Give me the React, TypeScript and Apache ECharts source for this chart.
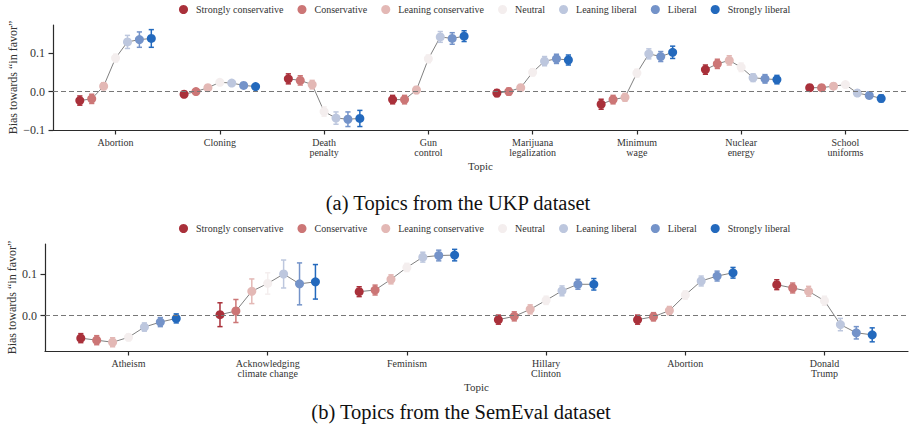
import React, { useEffect, useRef } from "react";
import * as echarts from "echarts";

const GROUPS = [
  "Strongly conservative",
  "Conservative",
  "Leaning conservative",
  "Neutral",
  "Leaning liberal",
  "Liberal",
  "Strongly liberal",
];
const COLORS = ["#a9303a", "#cc7676", "#e3b8b5", "#f4eeee", "#bdc7de", "#7493c9", "#2369bd"];

const ukpTopics = [
  "Abortion",
  "Cloning",
  "Death\npenalty",
  "Gun\ncontrol",
  "Marijuana\nlegalization",
  "Minimum\nwage",
  "Nuclear\nenergy",
  "School\nuniforms",
];
// rows: topics, columns: groups (strongly conservative ... strongly liberal)
const ukpMeans = [
  [-0.0235, -0.019, 0.014, 0.087, 0.129, 0.135, 0.138],
  [-0.007, 0.0, 0.01, 0.024, 0.022, 0.016, 0.013],
  [0.033, 0.029, 0.018, -0.052, -0.069, -0.072, -0.07],
  [-0.021, -0.021, 0.004, 0.085, 0.142, 0.138, 0.144],
  [-0.004, 0.0, 0.01, 0.05, 0.079, 0.085, 0.082],
  [-0.033, -0.021, -0.015, 0.048, 0.098, 0.091, 0.102],
  [0.057, 0.072, 0.081, 0.063, 0.036, 0.033, 0.031],
  [0.01, 0.01, 0.014, 0.018, -0.004, -0.01, -0.018],
];
const ukpErrors = [
  [0.012, 0.012, 0.009, 0.01, 0.017, 0.02, 0.023],
  [0.006, 0.006, 0.005, 0.005, 0.006, 0.006, 0.007],
  [0.013, 0.012, 0.011, 0.012, 0.016, 0.019, 0.021],
  [0.011, 0.011, 0.009, 0.01, 0.014, 0.015, 0.014],
  [0.009, 0.009, 0.008, 0.009, 0.012, 0.012, 0.013],
  [0.013, 0.011, 0.01, 0.01, 0.013, 0.013, 0.016],
  [0.012, 0.012, 0.012, 0.011, 0.01, 0.011, 0.011],
  [0.008, 0.007, 0.007, 0.006, 0.008, 0.008, 0.009],
];

const semTopics = [
  "Atheism",
  "Acknowledging\nclimate change",
  "Feminism",
  "Hillary\nClinton",
  "Abortion",
  "Donald\nTrump",
];
const semMeans = [
  [-0.055, -0.06, -0.065, -0.053, -0.028, -0.016, -0.007],
  [0.002, 0.011, 0.059, 0.078, 0.101, 0.077, 0.082],
  [0.058, 0.062, 0.088, 0.117, 0.142, 0.146, 0.147],
  [-0.01, -0.002, 0.015, 0.037, 0.06, 0.076, 0.076],
  [-0.01, -0.003, 0.012, 0.05, 0.084, 0.096, 0.104],
  [0.075, 0.067, 0.059, 0.036, -0.022, -0.042, -0.047],
];
const semErrors = [
  [0.011, 0.011, 0.011, 0.008, 0.01, 0.011, 0.011],
  [0.029, 0.028, 0.03, 0.026, 0.034, 0.051, 0.042],
  [0.012, 0.012, 0.011, 0.01, 0.012, 0.013, 0.014],
  [0.011, 0.011, 0.011, 0.01, 0.012, 0.012, 0.014],
  [0.011, 0.01, 0.01, 0.01, 0.012, 0.012, 0.013],
  [0.012, 0.012, 0.012, 0.011, 0.015, 0.015, 0.017],
];

const ukpYTicks = [-0.1, 0, 0.1];
const semYTicks = [0, 0.1];

const FONT = "Liberation Serif";
const AXIS_COLOR = "#2b2b2b";
const TEXT_COLOR = "#333333";

const offset = (g: number) => ((g - 3) * 0.8) / 7;

function fmtY(v: number) {
  return v.toFixed(1).replace("-", "\u2212");
}

function buildSeries(gi: number, topics: string[], means: number[][], errs: number[][]) {
  const series: any[] = [];
  topics.forEach((_, ti) => {
    series.push({
      type: "line",
      name: `conn-${gi}-${ti}`,
      xAxisIndex: gi,
      yAxisIndex: gi,
      data: means[ti].map((m, g) => [ti + offset(g), m]),
      symbol: "none",
      silent: true,
      lineStyle: { color: "#808080", width: 1 },
      z: 1,
      markLine:
        ti === 0
          ? {
              silent: true,
              symbol: "none",
              label: { show: false },
              lineStyle: { color: "#777777", type: [5, 3], width: 1 },
              data: [{ yAxis: 0 }],
            }
          : undefined,
    });
  });
  GROUPS.forEach((gname, g) => {
    series.push({
      type: "custom",
      name: `err-${gi}-${g}`,
      xAxisIndex: gi,
      yAxisIndex: gi,
      silent: true,
      z: 2,
      encode: { x: 0, y: 1 },
      data: topics.map((_, ti) => [ti + offset(g), means[ti][g], errs[ti][g]]),
      renderItem: (params: any, api: any) => {
        const x = api.value(0);
        const y = api.value(1);
        const e = api.value(2);
        const top = api.coord([x, y + e]);
        const bot = api.coord([x, y - e]);
        const style = { stroke: COLORS[g], lineWidth: 1.5 };
        const cw = 2.6;
        return {
          type: "group",
          children: [
            { type: "line", shape: { x1: top[0], y1: top[1], x2: bot[0], y2: bot[1] }, style },
            { type: "line", shape: { x1: top[0] - cw, y1: top[1], x2: top[0] + cw, y2: top[1] }, style },
            { type: "line", shape: { x1: bot[0] - cw, y1: bot[1], x2: bot[0] + cw, y2: bot[1] }, style },
          ],
        };
      },
    });
    series.push({
      type: "scatter",
      name: gname,
      xAxisIndex: gi,
      yAxisIndex: gi,
      symbol: "circle",
      symbolSize: 9,
      itemStyle: { color: COLORS[g], opacity: 1 },
      z: 3,
      data: topics.map((_, ti) => [ti + offset(g), means[ti][g]]),
    });
  });
  return series;
}

function xAxisFor(gi: number, topics: string[]) {
  const idx = topics.map((_, i) => i);
  return {
    type: "value",
    gridIndex: gi,
    min: -0.6,
    max: topics.length - 1 + 0.6,
    name: "Topic",
    nameLocation: "middle",
    nameGap: 30,
    nameMoveOverlap: false,
    nameTextStyle: { fontFamily: FONT, fontSize: 11, color: TEXT_COLOR },
    axisLine: { show: true, onZero: false, lineStyle: { color: AXIS_COLOR, width: 1.2 } },
    axisTick: { show: true, length: 4.5, customValues: idx, lineStyle: { color: AXIS_COLOR, width: 1.2 } },
    axisLabel: {
      customValues: idx,
      margin: 7,
      fontFamily: FONT,
      fontSize: 10,
      lineHeight: 10,
      color: TEXT_COLOR,
      formatter: (v: number) => topics[Math.round(v)],
    },
    splitLine: { show: false },
  };
}

function yAxisFor(gi: number, min: number, max: number, ticks: number[], nameGap: number) {
  return {
    type: "value",
    gridIndex: gi,
    min,
    max,
    name: "Bias towards \u201cin favor\u201d",
    nameLocation: "middle",
    nameGap,
    nameMoveOverlap: false,
    nameTextStyle: { fontFamily: FONT, fontSize: 12, color: TEXT_COLOR },
    axisLine: { show: true, onZero: false, lineStyle: { color: AXIS_COLOR, width: 1.2 } },
    axisTick: { show: true, length: 4.5, customValues: ticks, lineStyle: { color: AXIS_COLOR, width: 1.2 } },
    axisLabel: {
      customValues: ticks,
      margin: 8,
      fontFamily: FONT,
      fontSize: 12,
      color: TEXT_COLOR,
      formatter: (v: number) => fmtY(v),
    },
    splitLine: { show: false },
  };
}

function legendAt(top: number) {
  return {
    data: GROUPS.map((n) => ({ name: n, icon: "circle" })),
    left: 179,
    top,
    padding: 0,
    itemWidth: 9,
    itemHeight: 9,
    itemGap: 14,
    selectedMode: false,
    textStyle: { fontFamily: FONT, fontSize: 10, color: TEXT_COLOR, padding: [0, 0, 0, 3] },
  };
}

export default function App() {
  const ref = useRef<HTMLDivElement>(null);
  useEffect(() => {
    if (!ref.current) return;
    const chart = echarts.init(ref.current, undefined, { renderer: "svg" });
    const option: any = {
      animation: false,
      backgroundColor: "#ffffff",
      textStyle: { fontFamily: FONT },
      legend: [legendAt(4.5), legendAt(223.5)],
      grid: [
        { left: 53, right: 8, top: 25, height: 105, containLabel: false, outerBoundsMode: "none" },
        { left: 45, right: 8, top: 244, height: 107, containLabel: false, outerBoundsMode: "none" },
      ],
      xAxis: [xAxisFor(0, ukpTopics), xAxisFor(1, semTopics)],
      yAxis: [
        yAxisFor(0, -0.1, 0.173, ukpYTicks, 34),
        yAxisFor(1, -0.0863, 0.174, semYTicks, 27),
      ],
      graphic: [
        {
          type: "text",
          x: 458,
          y: 203,
          style: {
            text: "(a) Topics from the UKP dataset",
            fontFamily: FONT,
            fontSize: 20.5,
            fill: "#111111",
            textAlign: "center",
            textVerticalAlign: "middle",
          },
        },
        {
          type: "text",
          x: 461,
          y: 412,
          style: {
            text: "(b) Topics from the SemEval dataset",
            fontFamily: FONT,
            fontSize: 20.5,
            fill: "#111111",
            textAlign: "center",
            textVerticalAlign: "middle",
          },
        },
      ],
      series: [
        ...buildSeries(0, ukpTopics, ukpMeans, ukpErrors),
        ...buildSeries(1, semTopics, semMeans, semErrors),
      ],
    };
    chart.setOption(option);
    return () => chart.dispose();
  }, []);
  return (
    <div
      ref={ref}
      style={{ position: "fixed", left: 0, top: 0, width: 916, height: 438 }}
    />
  );
}
